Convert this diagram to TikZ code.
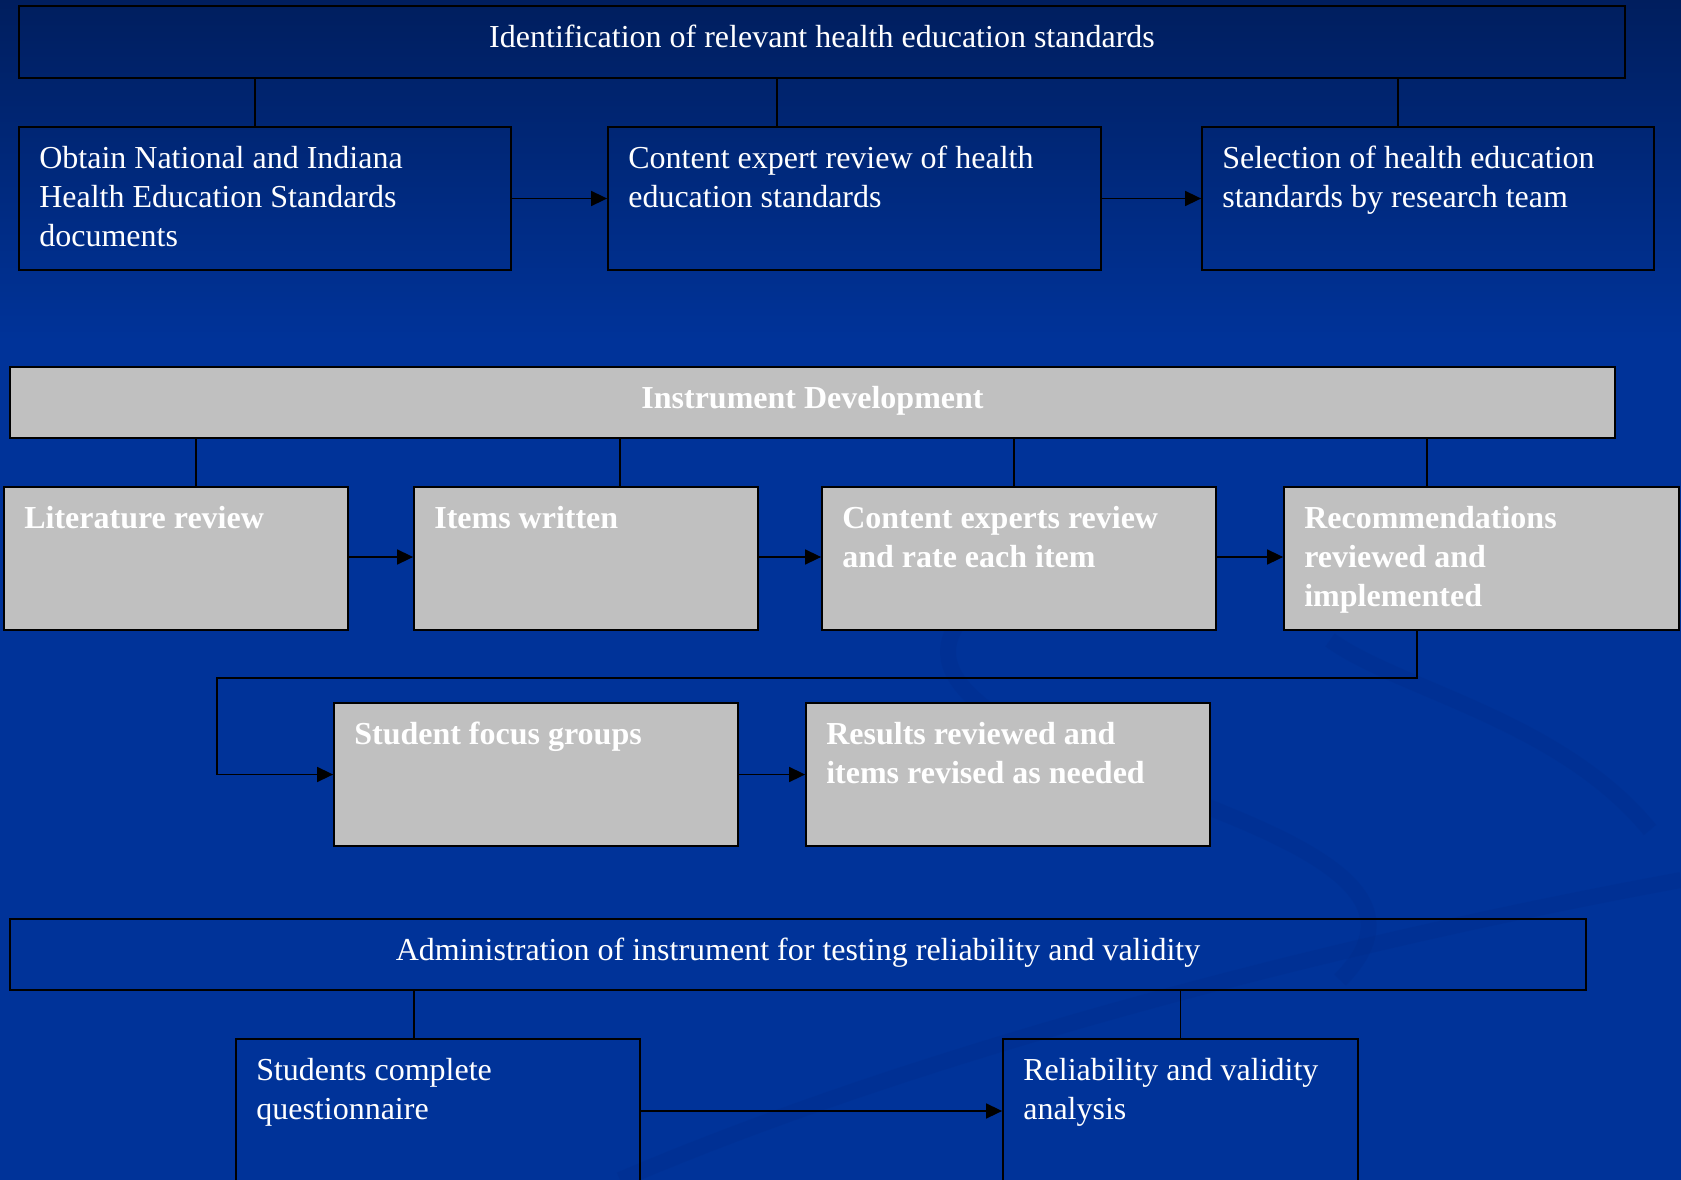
\documentclass[tikz,border=0pt]{standalone}
\usepackage{fontspec}
\setmainfont{Liberation Serif}
\usetikzlibrary{arrows.meta}
\definecolor{bgtop}{RGB}{0,30,94}
\definecolor{bgmid}{RGB}{0,51,153}
\definecolor{swoosh}{RGB}{0,44,138}
\definecolor{boxgray}{RGB}{192,192,192}
\tikzset{
  box/.style 2 args={draw=black, line width=1.8pt, inner sep=0pt,
    minimum width=#1pt, minimum height=#2pt},
  graybox/.style 2 args={box={#1}{#2}, fill=boxgray},
  txt/.style={text=white, font=\fontsize{32}{38.6}\selectfont, align=left,
    inner sep=0pt, anchor=north west},
  btxt/.style={txt, font=\fontsize{32}{38.6}\selectfont\bfseries},
  ttl/.style={text=white, font=\fontsize{32}{38.6}\selectfont, inner sep=0pt, anchor=base},
  bttl/.style={ttl, font=\fontsize{32}{38.6}\selectfont\bfseries},
  conn/.style={draw=black, line width=1.6pt},
  arr/.style={conn, -{Triangle[length=16pt,width=15pt]}},
}
\newcommand{\fl}{\rule{0pt}{30pt}}
\begin{document}
\begin{tikzpicture}[x=1pt,y=-1pt]
\useasboundingbox (0,0) rectangle (1681,1180);
\clip (0,0) rectangle (1681,1180);
% background
\fill[bgmid] (0,0) rectangle (1681,1180);
\shade[top color=bgtop, bottom color=bgmid] (0,0) rectangle (1681,340);
% faint swooshes of the template
\begin{scope}[swoosh, line width=16pt, opacity=0.3]
\draw (960,620) .. controls (900,700) and (1080,760) .. (1190,800) .. controls (1320,850) and (1420,900) .. (1340,980);
\draw (1330,640) .. controls (1400,690) and (1560,720) .. (1650,830);
\draw (620,1180) .. controls (900,1060) and (1300,950) .. (1681,880);
\end{scope}

% ---- row 0 / 1
\node[box={1606}{72}] (top) at (822,42) {};
\node[ttl] (toptxt) at ([yshift=-42.5pt]top.north) {Identification of relevant health education standards};
\node[box={492}{143}] (b1) at (265,198.5) {};
\node[box={493}{143}] (b2) at (854.5,198.5) {};
\node[box={452}{143}] (b3) at (1428,198.5) {};
\node[txt] (b1t) at ([shift={(21pt,-12.5pt)}]b1.north west) {\fl Obtain National and Indiana\\Health Education Standards\\documents};
\node[txt] (b2t) at ([shift={(21pt,-12.5pt)}]b2.north west) {\fl Content expert review of health\\education standards};
\node[txt] (b3t) at ([shift={(21pt,-12.5pt)}]b3.north west) {\fl Selection of health education\\standards by research team};
\draw[conn] ([xshift=-10pt]b1.north) -- ([xshift=-10pt]b1.north |- top.south);
\draw[conn] ([xshift=-77.5pt]b2.north) -- ([xshift=-77.5pt]b2.north |- top.south);
\draw[conn] ([xshift=-30pt]b3.north) -- ([xshift=-30pt]b3.north |- top.south);
\draw[arr] (b1.east) -- (b2.west);
\draw[arr] (b2.east) -- (b3.west);

% ---- row 2
\node[graybox={1605}{71}] (inst) at (812.5,402.5) {};
\node[bttl] (insttxt) at ([yshift=-42.5pt]inst.north) {Instrument Development};
\node[graybox={344}{143}] (c1) at (176,558.5) {};
\node[graybox={344}{143}] (c2) at (586,558.5) {};
\node[graybox={394}{143}] (c3) at (1019,558.5) {};
\node[graybox={395}{143}] (c4) at (1481.5,558.5) {};
\node[btxt] (c1t) at ([shift={(21pt,-12.5pt)}]c1.north west) {\fl Literature review};
\node[btxt] (c2t) at ([shift={(21pt,-12.5pt)}]c2.north west) {\fl Items written};
\node[btxt] (c3t) at ([shift={(21pt,-12.5pt)}]c3.north west) {\fl Content experts review\\and rate each item};
\node[btxt] (c4t) at ([shift={(21pt,-12.5pt)}]c4.north west) {\fl Recommendations\\reviewed and\\implemented};
\draw[conn] ([xshift=20pt]c1.north) -- ([xshift=20pt]c1.north |- inst.south);
\draw[conn] ([xshift=34pt]c2.north) -- ([xshift=34pt]c2.north |- inst.south);
\draw[conn] ([xshift=-5pt]c3.north) -- ([xshift=-5pt]c3.north |- inst.south);
\draw[conn] ([xshift=-54.5pt]c4.north) -- ([xshift=-54.5pt]c4.north |- inst.south);
\draw[arr] ([yshift=1.5pt]c1.east) -- ([yshift=1.5pt]c2.west);
\draw[arr] ([yshift=1.5pt]c2.east) -- ([yshift=1.5pt]c3.west);
\draw[arr] ([yshift=1.5pt]c3.east) -- ([yshift=1.5pt]c4.west);

% ---- row 3
\node[graybox={404}{143}] (d1) at (536,774.5) {};
\node[graybox={404}{143}] (d2) at (1008,774.5) {};
\node[btxt] (d1t) at ([shift={(21pt,-12.5pt)}]d1.north west) {\fl Student focus groups};
\node[btxt] (d2t) at ([shift={(21pt,-12.5pt)}]d2.north west) {\fl Results reviewed and\\items revised as needed};
\coordinate (elb) at (217,678);
\draw[arr] ([xshift=-64.5pt]c4.south) |- (elb) |- (d1.west);
\draw[arr] (d1.east) -- (d2.west);

% ---- row 4
\node[box={1576}{71}] (adm) at (798,954.5) {};
\node[ttl] (admtxt) at ([yshift=-42.5pt]adm.north) {Administration of instrument for testing reliability and validity};
\node[box={404}{144}] (e1) at (438,1111) {};
\node[box={355}{144}] (e2) at (1180.5,1111) {};
\node[txt] (e1t) at ([shift={(21pt,-12.5pt)}]e1.north west) {\fl Students complete\\questionnaire};
\node[txt] (e2t) at ([shift={(21pt,-12.5pt)}]e2.north west) {\fl Reliability and validity\\analysis};
\draw[conn] ([xshift=-24pt]e1.north) -- ([xshift=-24pt]e1.north |- adm.south);
\draw[conn] (e2.north) -- (e2.north |- adm.south);
\draw[arr] (e1.east) -- (e2.west);
\end{tikzpicture}
\end{document}
